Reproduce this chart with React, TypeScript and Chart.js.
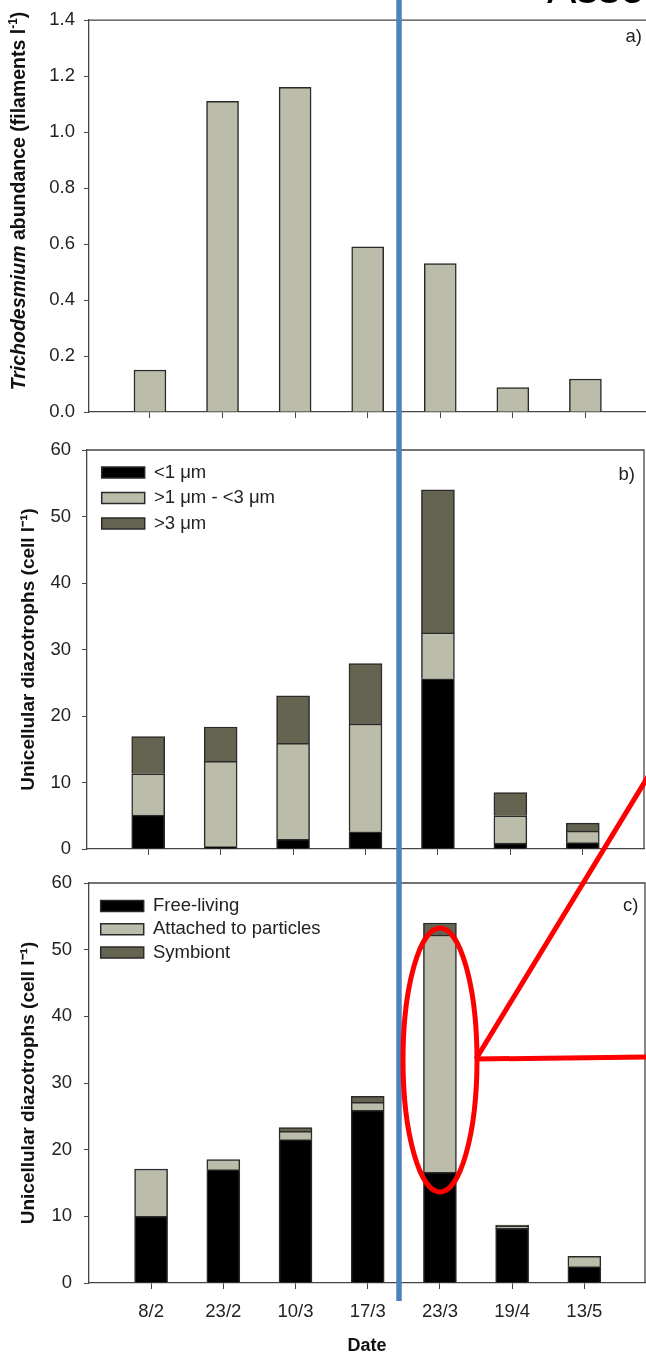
import React, { useEffect, useRef } from "react";
import { Chart, registerables } from "chart.js";
Chart.register(...registerables);

// ---------------- data ----------------
const dates = ["8/2", "23/2", "10/3", "17/3", "23/3", "19/4", "13/5"];
const trichodesmium = [0.15, 1.11, 1.16, 0.59, 0.53, 0.087, 0.118];
const lessThan1um = [5.1, 0.35, 1.45, 2.6, 25.6, 0.9, 0.95];
const from1to3um = [6.2, 12.85, 14.45, 16.2, 6.9, 4.1, 1.75];
const moreThan3um = [5.6, 5.15, 7.15, 9.1, 21.5, 3.5, 1.2];
const freeLiving = [10.0, 17.0, 21.5, 25.9, 16.6, 8.2, 2.45];
const attachedToParticles = [7.1, 1.5, 1.25, 1.2, 35.6, 0.3, 1.55];
const symbiont = [0, 0, 0.55, 0.9, 1.8, 0.2, 0];
const abundanceTicks = [0, 0.2, 0.4, 0.6, 0.8, 1.0, 1.2, 1.4];
const cellTicks = [0, 10, 20, 30, 40, 50, 60];

// ---------------- styles ----------------
const FAMILY = "'Liberation Sans', Arial, Helvetica, sans-serif";
const AXIS = "#454545";
const TEXT = "#222222";
const TITLE = "#111111";
const BLACK = "#000000";
const LIGHT = "#BCBCAA";
const DARK = "#646450";
const OUTLINE = "#2a2a2a";
const CW = 660;
const CH = 1357;

Chart.defaults.font.family = FAMILY;

const toXY = (vals: number[]) => vals.map((v, i) => ({ x: i + 1, y: v }));

const framePlugin = {
  id: "frame",
  afterDraw(chart: any) {
    const { ctx, chartArea } = chart;
    ctx.save();
    ctx.strokeStyle = AXIS;
    ctx.lineWidth = 1.3;
    ctx.beginPath();
    ctx.moveTo(chartArea.left, chartArea.top);
    ctx.lineTo(chartArea.right, chartArea.top);
    ctx.lineTo(chartArea.right, chartArea.bottom);
    ctx.stroke();
    ctx.restore();
  },
};

const panelLabel = (text: string, dxFromRight: number, dyFromTop: number) => ({
  id: "panelLabel",
  afterDraw(chart: any) {
    const { ctx, chartArea } = chart;
    ctx.save();
    ctx.font = `18.5px ${FAMILY}`;
    ctx.fillStyle = TEXT;
    ctx.textAlign = "right";
    ctx.textBaseline = "middle";
    ctx.fillText(text, chartArea.right - dxFromRight, chartArea.top + dyFromTop);
    ctx.restore();
  },
});

const legendShift = (dx: number, dy: number) => ({
  id: "legendShift",
  afterLayout(chart: any) {
    const lg = chart.legend;
    if (!lg) return;
    const ca = chart.chartArea;
    lg.left = ca.left + dx;
    lg.top = ca.top + dy;
    lg.right = ca.right;
    lg.bottom = ca.bottom;
  },
});

type Part = { text: string; font: string; raise?: number };
const richYTitle = (cx: number, cy: number, parts: Part[]) => ({
  id: "richYTitle",
  afterDraw(chart: any) {
    const { ctx } = chart;
    ctx.save();
    ctx.translate(cx, cy);
    ctx.rotate(-Math.PI / 2);
    ctx.textBaseline = "middle";
    ctx.textAlign = "left";
    ctx.fillStyle = TITLE;
    const widths = parts.map((p) => {
      ctx.font = p.font;
      return ctx.measureText(p.text).width;
    });
    const total = widths.reduce((a, b) => a + b, 0);
    let x = -total / 2;
    parts.forEach((p, i) => {
      ctx.font = p.font;
      ctx.fillText(p.text, x, -(p.raise || 0));
      x += widths[i];
    });
    ctx.restore();
  },
});

type PanelSpec = {
  datasets: any[];
  yMax: number;
  yTicks: number[];
  yFmt: (v: number) => string;
  top: number;
  bottom: number;
  left: number;
  right: number;
  xMin: number;
  xMax: number;
  xAxisHeight: number;
  showXLabels: boolean;
  yTitle?: string;
  yLabelPad: number;
  legend?: { padding: number };
  plugins: any[];
};

function buildConfig(p: PanelSpec): any {
  const tickFont = { family: FAMILY, size: 18.5 };
  return {
    type: "bar",
    data: { datasets: p.datasets },
    options: {
      animation: false,
      responsive: false,
      devicePixelRatio: 1,
      layout: {
        padding: {
          left: 0,
          top: p.top,
          right: CW - p.right,
          bottom: CH - p.bottom - p.xAxisHeight,
        },
      },
      plugins: {
        legend: p.legend
          ? {
              display: true,
              position: "chartArea",
              align: "start",
              labels: {
                boxWidth: 43,
                boxHeight: 11,
                padding: p.legend.padding,
                color: TEXT,
                font: { family: FAMILY, size: 18.5 },
              },
            }
          : { display: false },
        tooltip: { enabled: false },
      },
      scales: {
        x: {
          type: "linear",
          min: p.xMin,
          max: p.xMax,
          bounds: "data",
          offset: false,
          stacked: true,
          afterBuildTicks: (s: any) => {
            s.ticks = dates.map((_, i) => ({ value: i + 1 }));
          },
          afterFit: (s: any) => {
            s.height = p.xAxisHeight;
          },
          ticks: {
            display: p.showXLabels,
            autoSkip: false,
            maxRotation: 0,
            padding: 12,
            color: TEXT,
            font: tickFont,
            callback: (v: number) => dates[Math.round(v) - 1] ?? "",
          },
          grid: {
            display: true,
            offset: false,
            drawOnChartArea: false,
            drawTicks: true,
            tickLength: 6,
            color: AXIS,
            lineWidth: 1,
          },
          border: { display: true, color: AXIS, width: 1.3 },
          title: p.showXLabels
            ? {
                display: true,
                text: "Date",
                color: TITLE,
                font: { family: FAMILY, size: 18, weight: "bold" },
                padding: { top: 0, bottom: 0 },
              }
            : { display: false },
        },
        y: {
          type: "linear",
          min: 0,
          max: p.yMax,
          stacked: true,
          afterBuildTicks: (s: any) => {
            s.ticks = p.yTicks.map((v) => ({ value: v }));
          },
          afterFit: (s: any) => {
            s.width = p.left;
          },
          ticks: {
            padding: p.yLabelPad,
            color: TEXT,
            font: tickFont,
            callback: (v: number) => p.yFmt(v),
          },
          grid: {
            display: true,
            drawOnChartArea: false,
            drawTicks: true,
            tickLength: 5,
            color: AXIS,
            lineWidth: 1,
          },
          border: { display: true, color: AXIS, width: 1.3 },
          title: p.yTitle
            ? {
                display: true,
                text: p.yTitle,
                color: TITLE,
                font: { family: FAMILY, size: 19, weight: "bold" },
                padding: { top: 17.6, bottom: 0 },
              }
            : { display: false },
        },
      },
    },
    plugins: p.plugins,
  };
}

const barStyle = (color: string, thickness: number) => ({
  backgroundColor: color,
  borderColor: OUTLINE,
  borderWidth: 1.5,
  barThickness: thickness,
});

export default function App() {
  const refA = useRef<HTMLCanvasElement>(null);
  const refB = useRef<HTMLCanvasElement>(null);
  const refC = useRef<HTMLCanvasElement>(null);

  useEffect(() => {
    const cfgA = buildConfig({
      datasets: [{ label: "Trichodesmium", data: toXY(trichodesmium), ...barStyle(LIGHT, 32) }],
      yMax: 1.4,
      yTicks: abundanceTicks,
      yFmt: (v) => Number(v).toFixed(1),
      top: 13,
      bottom: 412,
      left: 89,
      right: 650,
      xMin: 0.16,
      xMax: 7.89,
      xAxisHeight: 6,
      showXLabels: false,
      yLabelPad: 9,
      plugins: [
        framePlugin,
        panelLabel("a)", 8, 17),
        richYTitle(20, 201, [
          { text: "Trichodesmium", font: `italic bold 19.5px ${FAMILY}` },
          { text: " abundance (filaments l", font: `bold 19.5px ${FAMILY}` },
          { text: "-1", font: `bold 12px ${FAMILY}`, raise: 6 },
          { text: ")", font: `bold 19.5px ${FAMILY}` },
        ]),
      ],
    });
    const cfgB = buildConfig({
      datasets: [
        { label: "<1 μm", data: toXY(lessThan1um), ...barStyle(BLACK, 33) },
        { label: ">1 μm - <3 μm", data: toXY(from1to3um), ...barStyle(LIGHT, 33) },
        { label: ">3 μm", data: toXY(moreThan3um), ...barStyle(DARK, 33) },
      ],
      yMax: 60,
      yTicks: cellTicks,
      yFmt: (v) => String(v),
      top: 450,
      bottom: 849,
      left: 87,
      right: 644,
      xMin: 0.155,
      xMax: 7.845,
      xAxisHeight: 6,
      showXLabels: false,
      yTitle: "Unicellular diazotrophs (cell l⁻¹)",
      yLabelPad: 11,
      legend: { padding: 7 },
      plugins: [framePlugin, panelLabel("b)", 9, 25), legendShift(7.7, 6.25)],
    });
    const cfgC = buildConfig({
      datasets: [
        { label: "Free-living", data: toXY(freeLiving), ...barStyle(BLACK, 33) },
        { label: "Attached to particles", data: toXY(attachedToParticles), ...barStyle(LIGHT, 33) },
        { label: "Symbiont", data: toXY(symbiont), ...barStyle(DARK, 33) },
      ],
      yMax: 60,
      yTicks: cellTicks,
      yFmt: (v) => String(v),
      top: 883,
      bottom: 1283,
      left: 89,
      right: 645,
      xMin: 0.14,
      xMax: 7.84,
      xAxisHeight: 74,
      showXLabels: true,
      yTitle: "Unicellular diazotrophs (cell l⁻¹)",
      yLabelPad: 12,
      legend: { padding: 4.8 },
      plugins: [framePlugin, panelLabel("c)", 6.7, 22.5), legendShift(6.9, 8.95)],
    });
    const charts = [
      new Chart(refA.current as HTMLCanvasElement, cfgA),
      new Chart(refB.current as HTMLCanvasElement, cfgB),
      new Chart(refC.current as HTMLCanvasElement, cfgC),
    ];
    return () => charts.forEach((c) => c.destroy());
  }, []);

  const canvasStyle: React.CSSProperties = {
    position: "absolute",
    left: 0,
    top: 0,
    width: CW,
    height: CH,
  };

  return (
    <div
      style={{
        position: "absolute",
        left: 0,
        top: 0,
        width: 646,
        height: 1357,
        overflow: "hidden",
        background: "#ffffff",
      }}
    >
      <canvas ref={refA} width={CW} height={CH} style={canvasStyle} />
      <canvas ref={refB} width={CW} height={CH} style={canvasStyle} />
      <canvas ref={refC} width={CW} height={CH} style={canvasStyle} />
      <div
        style={{
          position: "absolute",
          left: 547,
          top: -34,
          fontFamily: FAMILY,
          fontSize: 44,
          lineHeight: 1,
          whiteSpace: "nowrap",
          color: "#000",
        }}
      >
        Association
      </div>
      <svg
        width={646}
        height={1357}
        style={{ position: "absolute", left: 0, top: 0 }}
      >
        <line x1={399} y1={0} x2={399} y2={1301} stroke="#4F81BD" strokeWidth={5.5} />
        <ellipse cx={440} cy={1060} rx={37} ry={132} fill="none" stroke="#FF0000" strokeWidth={5} />
        <line x1={476} y1={1059} x2={652} y2={770} stroke="#FF0000" strokeWidth={5} />
        <line x1={476} y1={1059} x2={652} y2={1057} stroke="#FF0000" strokeWidth={5} />
      </svg>
    </div>
  );
}
